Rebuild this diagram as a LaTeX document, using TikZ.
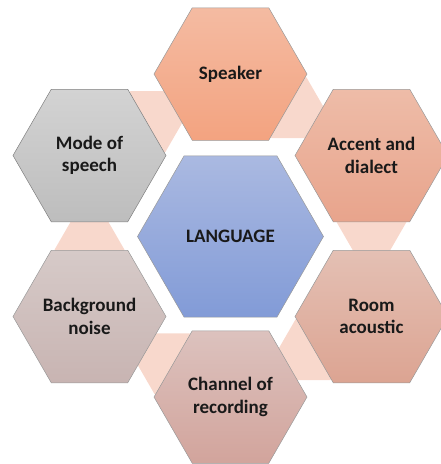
\documentclass[tikz,border=0pt]{standalone}
\usepackage{fontspec}
\setmainfont{Carlito}
\usetikzlibrary{shapes.geometric}
\definecolor{linkpink}{HTML}{F8D8CC}
\definecolor{spkT}{HTML}{F4BBA2}\definecolor{spkB}{HTML}{F3A380}
\definecolor{accT}{HTML}{EEBCA8}\definecolor{accB}{HTML}{E8A48C}
\definecolor{romT}{HTML}{E4C0B4}\definecolor{romB}{HTML}{DCA492}
\definecolor{chnT}{HTML}{DCC2BE}\definecolor{chnB}{HTML}{D2A49C}
\definecolor{bgnT}{HTML}{D6CAC8}\definecolor{bgnB}{HTML}{C8B4B2}
\definecolor{modT}{HTML}{D3D3D3}\definecolor{modB}{HTML}{BDBDBD}
\definecolor{lanT}{HTML}{AAB9E1}\definecolor{lanB}{HTML}{829BD7}
\begin{document}
\begin{tikzpicture}[x=1pt,y=-1pt,
  hexbox/.style={regular polygon, regular polygon sides=6, inner sep=0pt, outer sep=0pt,
    minimum size=153pt, draw=black!40, line width=0.5pt, align=center,
    font=\fontsize{19}{22.5}\selectfont\bfseries, text=black!90},
  linkhex/.style={regular polygon, regular polygon sides=6, inner sep=0pt, outer sep=0pt,
    minimum size=70pt, fill=linkpink, draw=none},
]
\useasboundingbox (0,0) rectangle (440,464);
% transition pieces (behind)
\node[linkhex] (l1) at (89.5,249.75) {};
\node[linkhex] (l2) at (148,121.5) {};
\node[linkhex] (l3) at (289,107.75) {};
\node[linkhex] (l4) at (371.5,222) {};
\node[linkhex] (l5) at (313,349.75) {};
\node[linkhex] (l6) at (172,363.75) {};
% outer hexagons
\node[hexbox, top color=spkT, bottom color=spkB] (spk) at (230.5,74) {Speaker};
\node[hexbox, top color=accT, bottom color=accB] (acc) at (371.5,155.5) {Accent and\\dialect};
\node[hexbox, top color=romT, bottom color=romB] (rom) at (371.5,316.5) {Room\\acoustic};
\node[hexbox, top color=chnT, bottom color=chnB] (chn) at (230.5,397) {Channel of\\recording};
\node[hexbox, top color=bgnT, bottom color=bgnB] (bgn) at (89.5,316.5) {Background\\noise};
\node[hexbox, top color=modT, bottom color=modB, draw=black!50] (mod) at (89.5,155.5) {Mode of\\speech};
% centre
\node[hexbox, minimum size=186pt, top color=lanT, bottom color=lanB] (lan) at (230.5,236.5) {LANGUAGE};
\end{tikzpicture}
\end{document}
